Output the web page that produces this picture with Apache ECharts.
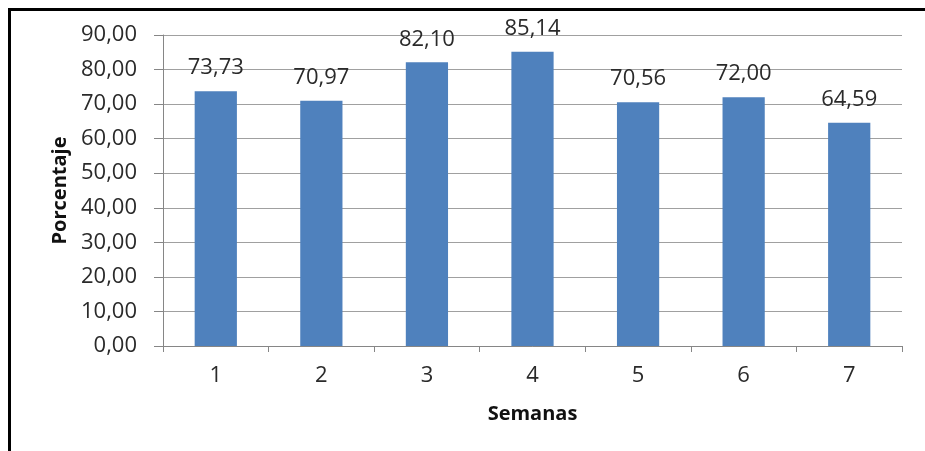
<!DOCTYPE html>
<html>
<head>
<meta charset="utf-8">
<script src="https://cdn.jsdelivr.net/npm/echarts@6/dist/echarts.min.js"></script>
<style>
html,body{margin:0;padding:0;background:#fff;}
#c{width:925px;height:451px;}
</style>
</head>
<body>
<div id="c"></div>
<script>
const categories = ['1','2','3','4','5','6','7'];
const values = [73.73, 70.97, 82.10, 85.14, 70.56, 72.00, 64.59];
const yTicks = {min: 0, max: 90, interval: 10};

const FONT = 'Open Sans';
const chart = echarts.init(document.getElementById('c'));
const fmt = v => Number(v).toFixed(2).replace('.', ',');
chart.setOption({
  animation: false,
  backgroundColor: '#fff',
  textStyle: {fontFamily: FONT},
  grid: {left: 163, right: 23, top: 35, bottom: 105},
  graphic: [
    {type: 'rect', shape: {x: 8, y: 8, width: 917, height: 3}, style: {fill: '#000'}},
    {type: 'rect', shape: {x: 8, y: 8, width: 3, height: 443}, style: {fill: '#000'}}
  ],
  xAxis: {
    type: 'category',
    data: categories,
    name: 'Semanas',
    nameLocation: 'middle',
    nameGap: 58,
    nameTextStyle: {fontSize: 20, fontWeight: 'bold', color: '#111', fontFamily: FONT},
    axisLine: {lineStyle: {color: '#868686', width: 1}},
    axisTick: {show: true, length: 6, lineStyle: {color: '#868686'}},
    axisLabel: {fontSize: 22, color: '#2a2a2a', margin: 19, fontFamily: FONT},
  },
  yAxis: {
    type: 'value',
    min: yTicks.min, max: yTicks.max, interval: yTicks.interval,
    name: 'Porcentaje',
    nameLocation: 'middle',
    nameGap: 92,
    nameTextStyle: {fontSize: 20, fontWeight: 'bold', color: '#111', fontFamily: FONT},
    axisLine: {show: true, lineStyle: {color: '#868686', width: 1}},
    axisTick: {show: true, length: 9, lineStyle: {color: '#868686'}},
    axisLabel: {fontSize: 22, color: '#2a2a2a', margin: 26, fontFamily: FONT, formatter: v => fmt(v)},
    splitLine: {lineStyle: {color: '#a0a0a0', width: 1}}
  },
  series: [{
    type: 'bar',
    data: values,
    barWidth: '40%',
    itemStyle: {color: '#4F81BD'},
    label: {
      show: true, position: 'top', distance: 12,
      fontSize: 22, color: '#2a2a2a', fontFamily: FONT,
      formatter: p => fmt(p.value)
    }
  }]
});
</script>
</body>
</html>
